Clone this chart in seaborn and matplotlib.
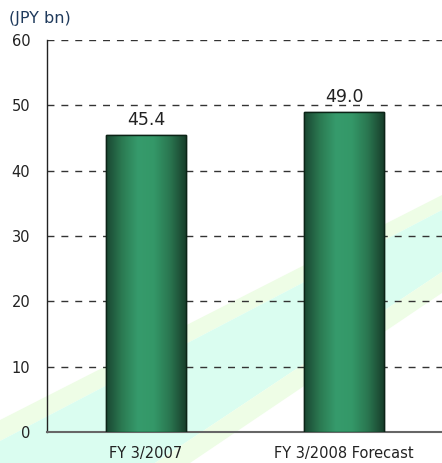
import numpy as np
import matplotlib
matplotlib.use("Agg")
import matplotlib.pyplot as plt
from matplotlib.patches import Polygon
from matplotlib.colors import LinearSegmentedColormap
import seaborn as sns

categories = ["FY 3/2007", "FY 3/2008 Forecast"]
values = [45.4, 49.0]
value_labels = ["45.4", "49.0"]
y_ticks = [0, 10, 20, 30, 40, 50, 60]
unit_label = "(JPY bn)"

sns.set_style("white")
plt.rcParams["font.family"] = ["DejaVu Sans"]

W, H = 442, 463
fig = plt.figure(figsize=(W / 100, H / 100), dpi=100)
ax = fig.add_axes([47 / W, 1 - 432 / H, (443 - 47) / W, (432 - 40) / H])
ax.set_facecolor("none")

# decorative diagonal bands in the background (pixel coords -> figure fraction)
def px(pts):
    return [(x / W, 1 - y / H) for x, y in pts]

bands = [
    (px([(0, 420), (442, 195), (442, 210), (0, 441)]), "#eefde6"),
    (px([(0, 441), (442, 210), (442, 272), (155, 463), (0, 463)]), "#dafdf0"),
    (px([(155, 463), (442, 272), (442, 293), (190, 463)]), "#eefde6"),
]
for pts, col in bands:
    fig.patches.append(Polygon(pts, closed=True, transform=fig.transFigure,
                               facecolor=col, edgecolor="none", zorder=-10))

sns.barplot(x=categories, y=values, ax=ax, width=0.4, color="#2e8b5e",
            edgecolor="#0b2316", linewidth=1.0, zorder=3)

# cylinder-like horizontal gradient on each bar
grad = LinearSegmentedColormap.from_list(
    "bar", ["#1a4631", "#2b7a52", "#369b6c", "#349868", "#2a7650", "#183f2b"])
g = np.linspace(0, 1, 256).reshape(1, -1)
for p in ax.patches:
    x0, y0 = p.get_x(), p.get_y()
    w, h = p.get_width(), p.get_height()
    im = ax.imshow(g, cmap=grad, aspect="auto", extent=[x0, x0 + w, y0, y0 + h],
                   zorder=3.5, interpolation="bicubic")
    im.set_clip_path(p)
    ax.add_patch(plt.Rectangle((x0, y0), w, h, fill=False, edgecolor="#0b2316",
                               linewidth=1.0, zorder=4))

for i, (v, lab) in enumerate(zip(values, value_labels)):
    ax.annotate(lab, (i, v), xytext=(0, 4.5), textcoords="offset points",
                ha="center", va="bottom", fontsize=12.5, color="#222222")

ax.set_xlim(-0.5, 1.5)
ax.set_ylim(0, 60)
ax.set_yticks(y_ticks)
ax.yaxis.grid(True, linestyle=(0, (5, 5)), color="#333333", linewidth=1.0, zorder=1)
ax.set_axisbelow(True)
ax.tick_params(axis="y", length=0, pad=12, labelsize=10.5, labelcolor="#222222")
ax.tick_params(axis="x", which="major", length=0, pad=10, labelsize=10.5, labelcolor="#222222")
ax.set_xticks([0.5], minor=True)
ax.tick_params(axis="x", which="minor", direction="in", length=4, color="#555555", width=1)
ax.set_xlabel("")
ax.set_ylabel("")

for s in ["top", "right"]:
    ax.spines[s].set_visible(False)
ax.spines["left"].set_color("#222222")
ax.spines["left"].set_linewidth(1.0)
ax.spines["bottom"].set_color("#666666")
ax.spines["bottom"].set_linewidth(1.5)

fig.text(9 / W, 1 - 18 / H, unit_label, ha="left", va="center",
         fontsize=11.5, color="#1f3a5c")

fig.savefig("out.png", dpi=100)
